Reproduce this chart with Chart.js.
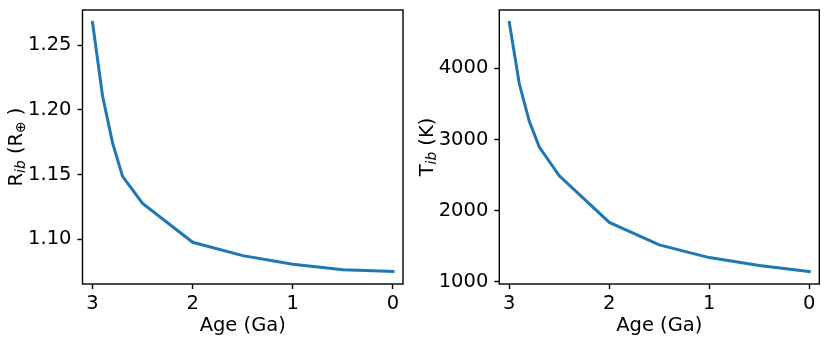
<!DOCTYPE html>
<html>
<head>
<meta charset="utf-8">
<script src="https://cdn.jsdelivr.net/npm/chart.js@4.4.0/dist/chart.umd.min.js"></script>
<style>
  html, body { margin: 0; padding: 0; background: #fff; }
  #wrap { position: relative; width: 830px; height: 342px; }
  .panel { position: absolute; top: 0; width: 415px; height: 342px; }
</style>
</head>
<body>
<div id="wrap">
  <div class="panel" style="left:0"><canvas id="radiusChart"></canvas></div>
  <div class="panel" style="left:415px"><canvas id="tempChart"></canvas></div>
</div>
<script>
// === Data ===
const ages = [3.0, 2.9, 2.8, 2.7, 2.5, 2.0, 1.5, 1.0, 0.5, 0.0];
const radius = [1.2676, 1.2110, 1.1745, 1.1487, 1.1277, 1.0977, 1.0874, 1.0808, 1.0764, 1.0751];
const temperature = [4645, 3783, 3255, 2895, 2490, 1836, 1519, 1341, 1229, 1145];
const ageTicks = [3, 2, 1, 0];
const radiusTicks = [1.10, 1.15, 1.20, 1.25];
const tempTicks = [1000, 2000, 3000, 4000];

const FONT = "DejaVu Sans";
const FS = 19.5;
const BLUE = "#1f77b4";

// matplotlib style 5% margins
function padRange(vals) {
  const lo = Math.min(...vals), hi = Math.max(...vals);
  const m = (hi - lo) * 0.05;
  return [lo - m, hi + m];
}

// frame + axis titles (mixed italic/subscript text)
const framePlugin = {
  id: "frame",
  afterDraw(chart, args, opts) {
    const { ctx, chartArea: a } = chart;
    ctx.save();
    ctx.strokeStyle = "#000";
    ctx.lineWidth = 1.4;
    ctx.strokeRect(a.left, a.top, a.right - a.left, a.bottom - a.top);

    // x title
    ctx.fillStyle = "#000";
    ctx.font = `${FS}px "${FONT}"`;
    ctx.textAlign = "center";
    ctx.textBaseline = "alphabetic";
    ctx.fillText("Age (Ga)", (a.left + a.right) / 2, 330.5);

    // y title, rotated
    const parts = opts.yTitle;
    ctx.translate(opts.yTitleX, (a.top + a.bottom) / 2);
    ctx.rotate(-Math.PI / 2);
    ctx.textAlign = "left";
    let total = 0;
    parts.forEach(p => {
      ctx.font = `${p.italic ? "italic " : ""}${p.size}px "${FONT}"`;
      p.w = ctx.measureText(p.t).width;
      total += p.w;
    });
    let x = -total / 2;
    parts.forEach(p => {
      ctx.font = `${p.italic ? "italic " : ""}${p.size}px "${FONT}"`;
      ctx.fillText(p.t, x, p.dy || 0);
      x += p.w;
    });
    ctx.restore();
  }
};

function makeChart(id, values, yTicks, fmt, yWidth, rightPad, yTitle, yTitleX) {
  const [ymin, ymax] = padRange(values);
  return new Chart(document.getElementById(id), {
    type: "line",
    data: {
      datasets: [{
        data: ages.map((a, i) => ({ x: a, y: values[i] })),
        borderColor: BLUE,
        borderWidth: 3,
        pointRadius: 0,
        tension: 0,
        fill: false,
        borderCapStyle: "square"
      }]
    },
    options: {
      responsive: true,
      maintainAspectRatio: false,
      animation: false,
      layout: { padding: { top: 10, right: rightPad, left: 0, bottom: 0 } },
      plugins: {
        legend: { display: false },
        tooltip: { enabled: false },
        frame: { yTitle, yTitleX }
      },
      scales: {
        x: {
          type: "linear",
          reverse: true,
          min: -0.1,
          max: 3.1,
          afterBuildTicks: s => { s.ticks = ageTicks.map(v => ({ value: v })); },
          afterFit: s => { s.height = 58; s.paddingLeft = 0; s.paddingRight = 0; },
          border: { display: false },
          grid: { drawOnChartArea: false, tickLength: 5, tickWidth: 1.4, tickColor: "#000" },
          ticks: { color: "#000", font: { family: FONT, size: FS }, padding: 3, maxRotation: 0,
                   callback: v => String(v) }
        },
        y: {
          type: "linear",
          min: ymin,
          max: ymax,
          afterBuildTicks: s => { s.ticks = yTicks.map(v => ({ value: v })); },
          afterFit: s => { s.width = yWidth; s.paddingTop = 0; s.paddingBottom = 0; },
          border: { display: false },
          grid: { drawOnChartArea: false, tickLength: 5, tickWidth: 1.4, tickColor: "#000" },
          ticks: { color: "#000", font: { family: FONT, size: FS }, padding: 6, callback: fmt }
        }
      }
    },
    plugins: [framePlugin]
  });
}

makeChart("radiusChart", radius, radiusTicks, v => v.toFixed(2), 82.5, 12,
  [
    { t: "R", size: FS },
    { t: "ib", size: 13.8, italic: true, dy: 3.5 },
    { t: " (R", size: FS },
    { t: "\u2295", size: 13.8, dy: 3.5 },
    { t: " )", size: FS }
  ], 21.7);

makeChart("tempChart", temperature, tempTicks, v => String(Math.round(v)), 84.3, 10.7,
  [
    { t: "T", size: FS },
    { t: "ib", size: 13.8, italic: true, dy: 3.5 },
    { t: " (K)", size: FS }
  ], 17.7);
</script>
</body>
</html>
